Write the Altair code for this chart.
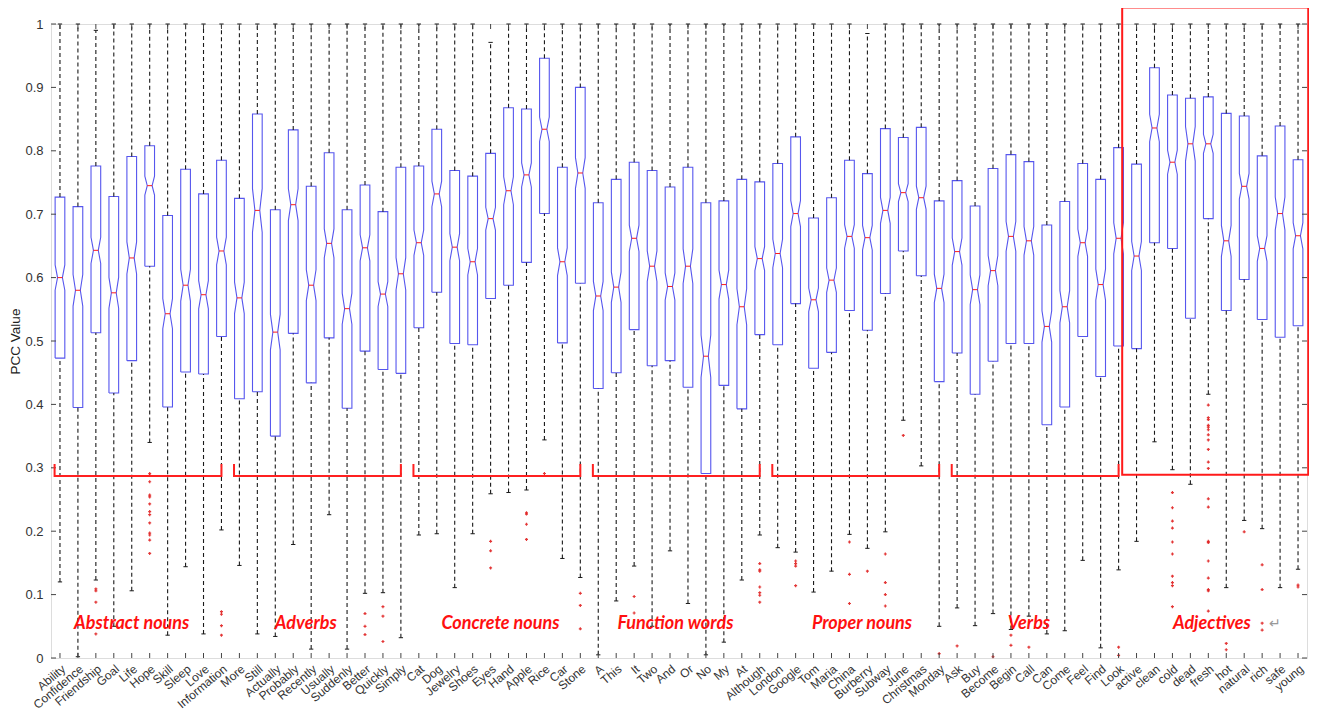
import altair as alt
import pandas as pd

categories = ["Ability", "Confidence", "Friendship", "Goal", "Life", "Hope", "Skill", "Sleep", "Love", "Information",
              "More", "Still", "Actually", "Probably", "Recently", "Usually", "Suddenly", "Better", "Quickly", "Simply",
              "Cat", "Dog", "Jewelry", "Shoes", "Eyes", "Hand", "Apple", "Rice", "Car", "Stone",
              "A", "This", "It", "Two", "And", "Or", "No", "My", "At", "Although",
              "London", "Google", "Tom", "Maria", "China", "Burberry", "Subway", "June", "Christmas", "Monday",
              "Ask", "Buy", "Become", "Begin", "Call", "Can", "Come", "Feel", "Find", "Look",
              "active", "clean", "cold", "dead", "fresh", "hot", "natural", "rich", "safe", "young"]

q1 = [0.473, 0.395, 0.513, 0.418, 0.469, 0.618, 0.396, 0.451, 0.448, 0.507,
      0.409, 0.420, 0.350, 0.512, 0.434, 0.505, 0.394, 0.484, 0.455, 0.449,
      0.521, 0.577, 0.496, 0.494, 0.567, 0.588, 0.624, 0.701, 0.497, 0.591,
      0.425, 0.450, 0.518, 0.461, 0.469, 0.427, 0.291, 0.430, 0.393, 0.510,
      0.494, 0.559, 0.457, 0.482, 0.548, 0.517, 0.575, 0.642, 0.603, 0.436,
      0.481, 0.416, 0.468, 0.496, 0.496, 0.368, 0.396, 0.507, 0.444, 0.492,
      0.488, 0.655, 0.646, 0.536, 0.693, 0.548, 0.597, 0.534, 0.506, 0.524]

median = [0.600, 0.580, 0.643, 0.576, 0.631, 0.745, 0.543, 0.588, 0.573, 0.642,
          0.568, 0.706, 0.514, 0.715, 0.588, 0.654, 0.551, 0.647, 0.574, 0.606,
          0.655, 0.732, 0.648, 0.625, 0.693, 0.737, 0.762, 0.834, 0.625, 0.765,
          0.571, 0.585, 0.662, 0.618, 0.586, 0.618, 0.476, 0.589, 0.554, 0.630,
          0.638, 0.701, 0.565, 0.596, 0.665, 0.663, 0.706, 0.734, 0.726, 0.583,
          0.641, 0.581, 0.611, 0.665, 0.658, 0.523, 0.554, 0.655, 0.589, 0.662,
          0.634, 0.836, 0.782, 0.811, 0.811, 0.658, 0.744, 0.646, 0.701, 0.666]

q3 = [0.727, 0.712, 0.776, 0.728, 0.791, 0.808, 0.698, 0.771, 0.732, 0.785,
      0.725, 0.858, 0.707, 0.833, 0.744, 0.797, 0.707, 0.746, 0.704, 0.774,
      0.776, 0.834, 0.769, 0.760, 0.796, 0.868, 0.866, 0.946, 0.774, 0.900,
      0.718, 0.755, 0.782, 0.769, 0.743, 0.774, 0.718, 0.721, 0.755, 0.751,
      0.780, 0.822, 0.694, 0.726, 0.785, 0.764, 0.835, 0.821, 0.837, 0.721,
      0.753, 0.713, 0.772, 0.794, 0.783, 0.683, 0.720, 0.780, 0.755, 0.805,
      0.779, 0.931, 0.888, 0.883, 0.885, 0.859, 0.855, 0.792, 0.839, 0.786]

whisker_low = [0.120, 0.002, 0.123, 0.050, 0.106, 0.340, 0.036, 0.144, 0.038, 0.202,
               0.146, 0.038, 0.034, 0.179, 0.014, 0.226, 0.014, 0.102, 0.103, 0.032,
               0.194, 0.196, 0.111, 0.196, 0.259, 0.261, 0.265, 0.344, 0.157, 0.127,
               0.005, 0.090, 0.145, 0.050, 0.169, 0.086, 0.005, 0.025, 0.123, 0.194,
               0.174, 0.167, 0.104, 0.137, 0.195, 0.173, 0.199, 0.375, 0.303, 0.050,
               0.079, 0.051, 0.070, 0.045, 0.066, 0.038, 0.043, 0.154, 0.016, 0.139,
               0.184, 0.341, 0.297, 0.274, 0.416, 0.111, 0.217, 0.204, 0.111, 0.140]

whisker_high = [1.0, 1.0, 0.99, 1.0, 1.0, 1.0, 1.0, 1.0, 1.0, 1.0,
                1.0, 1.0, 1.0, 1.0, 1.0, 1.0, 1.0, 1.0, 1.0, 1.0,
                1.0, 1.0, 1.0, 1.0, 0.971, 1.0, 1.0, 1.0, 1.0, 1.0,
                1.0, 1.0, 1.0, 1.0, 1.0, 1.0, 1.0, 1.0, 1.0, 1.0,
                1.0, 1.0, 1.0, 1.0, 1.0, 0.985, 1.0, 1.0, 1.0, 1.0,
                1.0, 1.0, 1.0, 1.0, 1.0, 1.0, 1.0, 1.0, 1.0, 1.0,
                1.0, 1.0, 1.0, 1.0, 1.0, 1.0, 1.0, 1.0, 1.0, 1.0]

outliers = [[], [], [0.109, 0.106, 0.088, 0.038], [], [],
            [0.291, 0.288, 0.278, 0.257, 0.254, 0.243, 0.231, 0.226, 0.213, 0.197, 0.194, 0.186, 0.165],
            [], [], [], [0.073, 0.069, 0.051, 0.036],
            [], [], [], [], [], [], [], [0.070, 0.050, 0.037], [0.081, 0.066, 0.026], [],
            [], [], [], [], [0.184, 0.169, 0.142], [], [0.229, 0.227, 0.211, 0.187], [0.291], [], [0.102, 0.083, 0.046],
            [], [], [0.097, 0.071], [], [], [], [], [], [], [0.149, 0.139, 0.137, 0.112, 0.103, 0.099, 0.088],
            [], [0.153, 0.149, 0.145, 0.114], [], [], [0.183, 0.132, 0.086], [0.137], [0.164, 0.119, 0.100, 0.082],
            [0.351], [], [0.007],
            [0.019], [], [0.002], [0.036, 0.020], [0.017], [], [], [], [], [0.017, 0.004],
            [], [], [0.261, 0.237, 0.216, 0.205, 0.183, 0.164, 0.129, 0.119, 0.114, 0.081], [],
            [0.399, 0.379, 0.376, 0.367, 0.364, 0.360, 0.352, 0.344, 0.329, 0.309, 0.299, 0.251, 0.238,
             0.184, 0.182, 0.153, 0.126, 0.108, 0.106, 0.074],
            [0.023, 0.013], [0.199], [0.147, 0.108, 0.055, 0.044], [], [0.115, 0.112]]

groups = ["Abstract nouns", "Adverbs", "Concrete nouns", "Function words", "Proper nouns", "Verbs", "Adjectives"]
group_size = 10
y_ticks = [0, 0.1, 0.2, 0.3, 0.4, 0.5, 0.6, 0.7, 0.8, 0.9, 1.0]

# ---- styling / geometry constants ----
W, H = 1256, 634
N_SAMPLES = 400
BOX_HALF = 0.27
NOTCH_HALF = 0.135
CAP_HALF = 0.12
BLUE = "#5656ee"
RED = "#ff1a1a"

# ---- derived tables ----
box_rows, stat_rows, out_rows = [], [], []
for i, name in enumerate(categories):
    x = i + 1
    iqr = q3[i] - q1[i]
    nd = 1.57 * iqr / (N_SAMPLES ** 0.5)
    nlo = max(q1[i], median[i] - nd)
    nhi = min(q3[i], median[i] + nd)
    pts = [(x - BOX_HALF, q1[i]), (x + BOX_HALF, q1[i]), (x + BOX_HALF, nlo), (x + NOTCH_HALF, median[i]),
           (x + BOX_HALF, nhi), (x + BOX_HALF, q3[i]), (x - BOX_HALF, q3[i]), (x - BOX_HALF, nhi),
           (x - NOTCH_HALF, median[i]), (x - BOX_HALF, nlo), (x - BOX_HALF, q1[i])]
    for k, (px, py) in enumerate(pts):
        box_rows.append({"cat": name, "x": px, "y": py, "ord": k})
    stat_rows.append({"cat": name, "x": x, "q1": q1[i], "med": median[i], "q3": q3[i],
                      "lo": whisker_low[i], "hi": whisker_high[i],
                      "capL": x - CAP_HALF, "capR": x + CAP_HALF,
                      "medL": x - NOTCH_HALF, "medR": x + NOTCH_HALF})
    for v in outliers[i]:
        out_rows.append({"cat": name, "x": x, "v": v})

box_df = pd.DataFrame(box_rows)
stat_df = pd.DataFrame(stat_rows)
out_df = pd.DataFrame(out_rows)

xscale = alt.Scale(domain=[0.5, 70.5], nice=False, zero=False)
yscale = alt.Scale(domain=[0, 1], nice=False, zero=False)

label_expr = "[" + ",".join("'" + c + "'" for c in categories) + "][datum.value - 1]"

xaxis = alt.Axis(values=list(range(1, 71)), labelExpr=label_expr, ticks=False, domain=False, grid=False,
                 labelAngle=320, labelAlign="right", labelBaseline="top", labelPadding=5,
                 labelFontSize=12, labelColor="#333333", labelFont="Liberation Sans",
                 labelOverlap=False, labelFlush=False, labelBound=False, title=None)
yaxis = alt.Axis(values=y_ticks, format=".1~f", ticks=False, domain=False, grid=False,
                 labelFontSize=13, labelColor="#333333", labelFont="Liberation Sans", labelPadding=8,
                 title="PCC Value", titleFontSize=13.5, titleFontWeight="normal", titleColor="#222222",
                 titleFont="Liberation Sans", titlePadding=2)


def X(field):
    return alt.X(field, scale=xscale, axis=xaxis)


def Y(field):
    return alt.Y(field, scale=yscale, axis=yaxis)


boxes = alt.Chart(box_df).mark_line(color=BLUE, strokeWidth=1.1).encode(
    x=X("x:Q"), y=Y("y:Q"), detail="cat:N", order="ord:Q")

base = alt.Chart(stat_df)
WH = "#1a1a1a"
whisk_up = base.mark_rule(color=WH, strokeDash=[4, 3], strokeWidth=1.1).encode(
    x=X("x:Q"), y=Y("q3:Q"), y2="hi:Q")
whisk_dn = base.mark_rule(color=WH, strokeDash=[4, 3], strokeWidth=1.1).encode(
    x=X("x:Q"), y=Y("lo:Q"), y2="q1:Q")
cap_hi = base.mark_rule(color=WH, strokeWidth=1).encode(x=X("capL:Q"), x2="capR:Q", y=Y("hi:Q"))
cap_lo = base.mark_rule(color=WH, strokeWidth=1).encode(x=X("capL:Q"), x2="capR:Q", y=Y("lo:Q"))
med_line = base.mark_rule(color=RED, strokeWidth=1).encode(x=X("medL:Q"), x2="medR:Q", y=Y("med:Q"))

outs = alt.Chart(out_df).mark_point(shape="cross", filled=True, size=9, color="#e02020", opacity=0.9).encode(
    x=X("x:Q"), y=Y("v:Q"))

# inward ticks (MATLAB style)
ytick_df = pd.DataFrame({"v": y_ticks})
xtick_df = pd.DataFrame({"x": list(range(1, 71))})
tick_col = "#444444"
yt_left = alt.Chart(ytick_df).mark_rule(color=tick_col).encode(
    x=alt.value(0), x2=alt.value(5), y=Y("v:Q"))
yt_right = alt.Chart(ytick_df).mark_rule(color=tick_col).encode(
    x=alt.value(W - 5), x2=alt.value(W), y=Y("v:Q"))
xt_bot = alt.Chart(xtick_df).mark_rule(color=tick_col).encode(
    x=X("x:Q"), y=alt.value(H), y2=alt.value(H - 5))
xt_top = alt.Chart(xtick_df).mark_rule(color=tick_col).encode(
    x=X("x:Q"), y=alt.value(0), y2=alt.value(5))

# red annotations: brackets under each group, labels, highlight rectangle
br_rows, lab_rows = [], []
lab_pos = [5.0, 14.7, 25.55, 35.3, 45.7, 55.0, 65.2]
for g, gname in enumerate(groups):
    s = g * group_size + 1
    e = s + group_size - 1
    if gname != "Adjectives":
        pts = [(s - 0.3, 0.306), (s - 0.3, 0.287), (e, 0.287), (e, 0.306)]
        for k, (px, py) in enumerate(pts):
            br_rows.append({"g": gname, "x": px, "y": py, "ord": k})
    lab_rows.append({"g": gname, "x": lab_pos[g], "y": 0.054})
br_df = pd.DataFrame(br_rows)
lab_df = pd.DataFrame(lab_rows)

brackets = alt.Chart(br_df).mark_line(color="#ff2020", strokeWidth=2).encode(
    x=X("x:Q"), y=Y("y:Q"), detail="g:N", order="ord:Q")
glabels = alt.Chart(lab_df).mark_text(color="#ff1010", fontSize=18, fontWeight="bold", fontStyle="italic",
                                      font="Lato").encode(x=X("x:Q"), y=Y("y:Q"), text="g:N")
ret = alt.Chart(pd.DataFrame({"x": [68.7], "y": [0.054], "t": ["↵"]})).mark_text(
    color="#999999", fontSize=14).encode(x=X("x:Q"), y=Y("y:Q"), text="t:N")
hl = alt.Chart(pd.DataFrame({"x": [60.2], "x2": [70.57], "y": [1.026], "y2": [0.289]})).mark_rect(
    fill=None, stroke="#ff1a1a", strokeWidth=2).encode(x=X("x:Q"), x2="x2:Q", y=Y("y:Q"), y2="y2:Q")

chart = alt.layer(
    boxes, whisk_up, whisk_dn, cap_hi, cap_lo, med_line, outs,
    yt_left, yt_right, xt_bot, xt_top, brackets, glabels, ret, hl
).properties(
    width=W, height=H,
    autosize=alt.AutoSizeParams(type="none"),
    padding={"left": 43, "top": 16, "right": 2, "bottom": 53},
).configure_view(stroke="#444444", strokeWidth=1).configure(background="white")

chart.save("out.html", embed_options={"renderer": "svg", "actions": False})
